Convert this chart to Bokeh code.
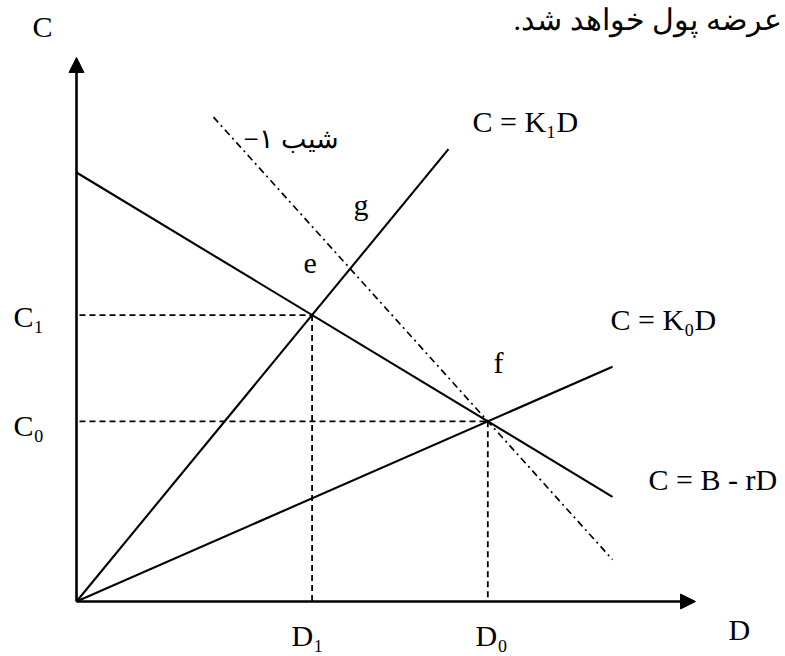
from bokeh.plotting import figure
from bokeh.models import Range1d, Arrow, NormalHead, ColumnDataSource
from bokeh.core.properties import value
from bokeh.embed import file_html
from bokeh.resources import INLINE

# ---- model values (units: D to the right, C upward, origin at axes corner) ----
B = 429.0          # intercept of C = B - rD
r = 0.605          # slope of C = B - rD
K1 = 1.216         # slope of C = K1 D
K0 = 0.438         # slope of C = K0 D
slope_g = -1.109   # the "slope -1" line (drawn scale)
D_line_end = 536.0
K1_line_end = 372.0
g_line_start = 137.0
D_axis_end = 619.0
C_axis_end = 544.0

D1 = B / (K1 + r)
C1 = K1 * D1
D0 = B / (K0 + r)
C0 = K0 * D0

# labels
label_text = ["C", "C\u2081", "C\u2080", "D\u2081", "D\u2080", "D",
              "C = K\u2081D", "C = K\u2080D", "C = B - rD", "e", "g", "f"]
label_x = [-44, -63, -63, 215, 399, 652, 396, 534, 572, 227, 277, 417]
label_y = [575, 285, 176, -34, -34, -28, 480, 282, 122, 338, 397, 239]

persian_slope = "\u2212\u06f1 \u0634\u06cc\u0628"
persian_slope_xy = (262, 463)
top_text = "\u0639\u0631\u0636\u0647 \u067e\u0648\u0644 \u062e\u0648\u0627\u0647\u062f \u0634\u062f.\u200f"
top_text_xy = (705, 582)

SERIF = value("'Liberation Serif'")

p = figure(width=785, height=656, x_range=Range1d(-76, 709), y_range=Range1d(-55, 601),
           output_backend="svg", toolbar_location=None, min_border=0,
           x_axis_location=None, y_axis_location=None, outline_line_color=None)
p.xgrid.visible = False
p.ygrid.visible = False
p.background_fill_color = "white"
p.border_fill_color = "white"

# axes with arrows
p.add_layout(Arrow(end=NormalHead(size=15, fill_color="black", line_color="black"),
                   x_start=0, y_start=0, x_end=D_axis_end, y_end=0,
                   line_width=2.6, line_color="black"))
p.add_layout(Arrow(end=NormalHead(size=15, fill_color="black", line_color="black"),
                   x_start=0, y_start=0, x_end=0, y_end=C_axis_end,
                   line_width=2.6, line_color="black"))

# solid lines
p.line([0, D_line_end], [B, B - r * D_line_end], line_color="black", line_width=2.1)
p.line([0, K1_line_end], [0, K1 * K1_line_end], line_color="black", line_width=2.1)
p.line([0, D_line_end], [0, K0 * D_line_end], line_color="black", line_width=2.1)

# slope -1 line through f
p.line([g_line_start, D_line_end],
       [C0 + slope_g * (g_line_start - D0), C0 + slope_g * (D_line_end - D0)],
       line_color="black", line_width=1.7, line_dash="7 4 2 4")

# dashed guides
p.line([3, D1], [C1, C1], line_color="black", line_width=1.8, line_dash="6 4")
p.line([3, D0], [C0, C0], line_color="black", line_width=1.8, line_dash="6 4")
p.line([D1, D1], [C1, 0], line_color="black", line_width=1.8, line_dash="6 4")
p.line([D0, D0], [C0, 0], line_color="black", line_width=1.8, line_dash="6 4")

src = ColumnDataSource(dict(x=label_x, y=label_y, t=label_text))
p.text(x="x", y="y", text="t", source=src, text_font=SERIF,
       text_font_size="30px", text_color="black", text_baseline="alphabetic",
       text_align="left")

p.text(x=[persian_slope_xy[0]], y=[persian_slope_xy[1]], text=[persian_slope],
       text_font=SERIF, text_font_size="27px", text_color="black",
       text_baseline="alphabetic", text_align="right")
p.text(x=[top_text_xy[0]], y=[top_text_xy[1]], text=[top_text],
       text_font=SERIF, text_font_size="30px", text_color="black",
       text_baseline="alphabetic", text_align="right")

open("out.html", "w").write(file_html(p, INLINE))
